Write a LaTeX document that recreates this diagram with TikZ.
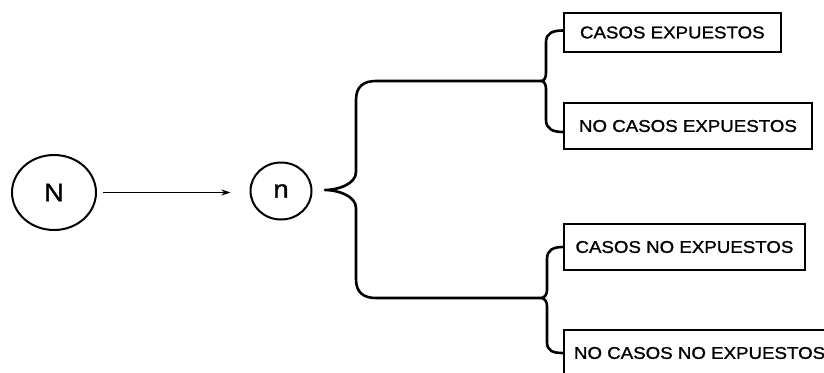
\documentclass[tikz,border=0pt]{standalone}
\usepackage{fontspec}
\setmainfont{Liberation Sans}[FakeStretch=1.1,FakeBold=1.2]
\usetikzlibrary{arrows.meta,shapes.geometric}
\begin{document}
\begin{tikzpicture}[x=1pt,y=-1pt,
  circ/.style={draw,ellipse,line width=2pt,inner sep=0pt},
  boxlbl/.style={draw,line width=2pt,anchor=west,minimum height=46pt,inner ysep=0pt,font=\fontsize{17}{20}\selectfont},
  brace/.style={line width=2.6pt,line cap=round,line join=round},
  conn/.style={line width=1.8pt,-{Stealth[length=9pt,width=6pt]}}]
\useasboundingbox (0,0) rectangle (824,372);
\clip (0,0) rectangle (824,372);
\node[circ,minimum width=84pt,minimum height=75pt,font=\fontsize{25}{25}\selectfont] (N) at (54,192.5) {\raisebox{-6pt}{N}};
\node[circ,minimum width=61pt,minimum height=57pt,font=\fontsize{25}{25}\selectfont] (n) at (281,191) {n};
\draw[conn,shorten <=6pt,shorten >=19pt] (N.east) -- (n.west |- N.east);
\node[boxlbl,inner xsep=16pt,minimum height=39pt] (b1) at (563,32.5) {CASOS EXPUESTOS};
\node[boxlbl,inner xsep=15pt] (b2) at (563,126) {NO CASOS EXPUESTOS};
\node[boxlbl,inner xsep=11.5pt] (b3) at (563,247) {CASOS NO EXPUESTOS};
\node[boxlbl,inner xsep=10pt] (b4) at (563,353) {NO CASOS NO EXPUESTOS};
\coordinate (t1) at (541,81);
\coordinate (t2) at (541,298);
\coordinate (T) at (325,190);
% big brace
\draw[brace] (t1) -- (376,81) .. controls (364,81) and (356,86) .. (356,100) -- (356,172)
  .. controls (356,184) and (338,190) .. (T)
  .. controls (338,190) and (356,196) .. (356,208) -- (356,279)
  .. controls (356,293) and (364,298) .. (376,298) -- (t2);
% small upper brace
\draw[brace] ([yshift=2pt]b1.west) .. controls +(-10,0) and +(0,-9) .. (546,42) -- (546,73)
  .. controls +(0,5) and +(3,0) .. (t1)
  .. controls +(3,0) and +(0,-5) .. (546,89) -- (546,120)
  .. controls +(0,9) and +(-10,0) .. ([yshift=-6pt]b2.west);
% small lower brace
\draw[brace] (b3.west) .. controls +(-10,0) and +(0,-9) .. (547,259) -- (547,290)
  .. controls +(0,5) and +(3,0) .. (t2)
  .. controls +(3,0) and +(0,-5) .. (547,306) -- (547,342)
  .. controls +(0,9) and +(-10,0) .. (b4.west);
\end{tikzpicture}
\end{document}
